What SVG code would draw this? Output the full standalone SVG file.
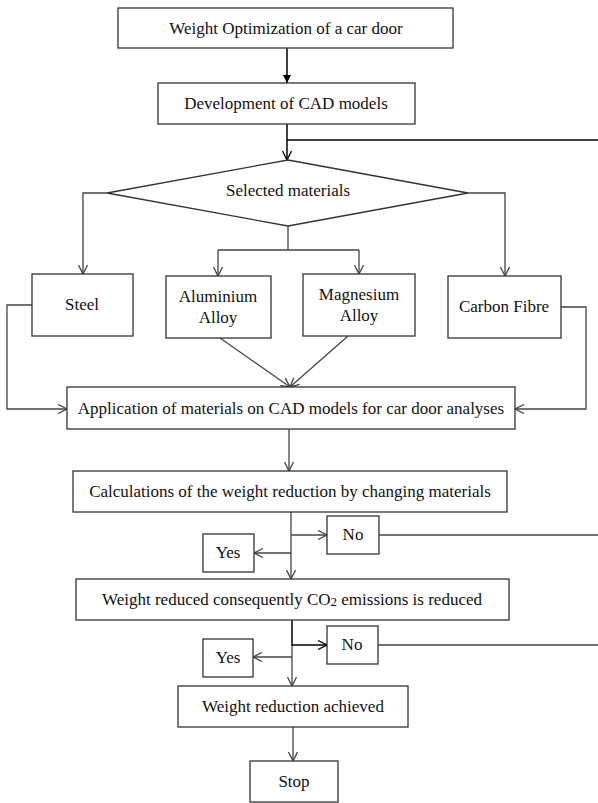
<svg xmlns="http://www.w3.org/2000/svg" width="598" height="803" viewBox="0 0 598 803">
<defs>
<marker id="open" viewBox="0 0 10 10" refX="10" refY="5" markerWidth="10" markerHeight="10" markerUnits="userSpaceOnUse" orient="auto">
<path d="M1,0.5 L10,5 L1,9.5" fill="none" stroke="#444" stroke-width="1.3"/>
</marker>
<marker id="openk" viewBox="0 0 10 10" refX="10" refY="5" markerWidth="10" markerHeight="10" markerUnits="userSpaceOnUse" orient="auto">
<path d="M1,0.5 L10,5 L1,9.5" fill="none" stroke="#000" stroke-width="1.3"/>
</marker>
<marker id="solid" viewBox="0 0 10 10" refX="10" refY="5" markerWidth="8" markerHeight="8" markerUnits="userSpaceOnUse" orient="auto">
<path d="M0,0 L10,5 L0,10 Z" fill="#000"/>
</marker>
</defs>
<style>
.b{fill:#fff;stroke:#333;stroke-width:1.3}
text{font-family:"Liberation Serif",serif;font-size:17px;fill:#111;text-anchor:middle}
.c{fill:none;stroke:#444;stroke-width:1.3}
.k{fill:none;stroke:#000;stroke-width:1.5}
</style>
<g id="connectors">
<path class="k" d="M287,48 V83" marker-end="url(#solid)"/>
<path class="k" d="M598,140 H287"/>
<path class="k" d="M287,124 V160" marker-end="url(#openk)"/>
<path class="c" d="M107,193 H83 V274" marker-end="url(#open)"/>
<path class="c" d="M468,193 H505 V276" marker-end="url(#open)"/>
<path class="c" d="M288,226 V250"/>
<path class="c" d="M218,250 H359"/>
<path class="c" d="M218,250 V276" marker-end="url(#open)"/>
<path class="c" d="M359,250 V274" marker-end="url(#open)"/>
<path class="c" d="M220,338 L290,387" marker-end="url(#open)"/>
<path class="c" d="M348,336 L290,387" marker-end="url(#open)"/>
<path class="c" d="M32,305 H7 V409 H67" marker-end="url(#open)"/>
<path class="c" d="M561,307 H586 V409 H515" marker-end="url(#open)"/>
<path class="c" d="M289,429 V471" marker-end="url(#open)"/>
<path class="c" d="M291,512 V579" marker-end="url(#open)"/>
<path class="c" d="M291,535 H327" marker-end="url(#open)"/>
<path class="c" d="M291,553 H254" marker-end="url(#open)"/>
<path class="c" d="M379,535 H598"/>
<path class="k" d="M292,620 V646"/>
<path class="c" d="M292,646 V686" marker-end="url(#open)"/>
<path class="k" d="M292,645 H327" marker-end="url(#openk)"/>
<path class="c" d="M292,657 H253" marker-end="url(#open)"/>
<path class="c" d="M378,645 H598"/>
<path class="c" d="M293,727 V761" marker-end="url(#open)"/>
</g>
<g font-family="Liberation Serif, serif">
<g id="start"><rect class="b" x="118" y="8" width="335" height="40"/><text x="286" y="34">Weight Optimization of a car door</text></g>
<g id="cad"><rect class="b" x="158" y="83" width="257" height="41"/><text x="286" y="109">Development of CAD models</text></g>
<g id="selected"><polygon class="b" points="288,160 468,193 288,226 107,193"/><text x="288" y="196">Selected materials</text></g>
<g id="steel"><rect class="b" x="32" y="274" width="101" height="62"/><text x="82" y="310">Steel</text></g>
<g id="aluminium"><rect class="b" x="166" y="276" width="105" height="62"/><text x="218" y="302">Aluminium</text><text x="218" y="323">Alloy</text></g>
<g id="magnesium"><rect class="b" x="303" y="274" width="112" height="62"/><text x="359" y="300">Magnesium</text><text x="359" y="321">Alloy</text></g>
<g id="carbon"><rect class="b" x="448" y="276" width="113" height="62"/><text x="504" y="312">Carbon Fibre</text></g>
<g id="application"><rect class="b" x="67" y="387" width="448" height="42"/><text x="291" y="414">Application of materials  on CAD models for car door analyses</text></g>
<g id="calculations"><rect class="b" x="73" y="471" width="434" height="41"/><text x="290" y="497">Calculations of the weight reduction by changing materials</text></g>
<g id="no1"><rect class="b" x="327" y="516" width="52" height="38"/><text x="353" y="540">No</text></g>
<g id="yes1"><rect class="b" x="203" y="534" width="51" height="38"/><text x="228" y="558">Yes</text></g>
<g id="co2"><rect class="b" x="76" y="579" width="433" height="41"/><text x="292" y="605">Weight reduced consequently CO<tspan font-size="13" dy="1">2</tspan><tspan dy="-1"> emissions  is reduced</tspan></text></g>
<g id="no2"><rect class="b" x="327" y="626" width="51" height="38"/><text x="352" y="650">No</text></g>
<g id="yes2"><rect class="b" x="203" y="639" width="50" height="38"/><text x="228" y="663">Yes</text></g>
<g id="achieved"><rect class="b" x="178" y="686" width="230" height="41"/><text x="293" y="712">Weight reduction achieved</text></g>
<g id="stop"><rect class="b" x="250" y="761" width="88" height="41"/><text x="294" y="787">Stop</text></g>
</g>
</svg>
